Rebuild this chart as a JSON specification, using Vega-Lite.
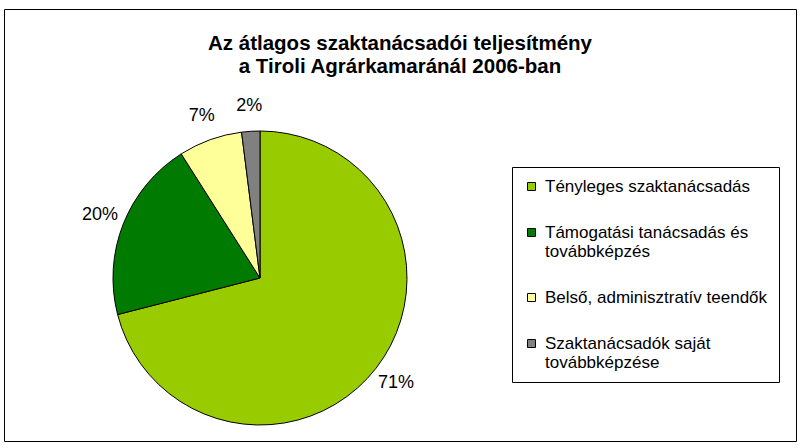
{
  "$schema": "https://vega.github.io/schema/vega-lite/v6.json",
  "width": 792,
  "height": 432,
  "autosize": {"type": "none"},
  "padding": {"left": 4, "top": 9, "right": 6, "bottom": 7},
  "background": "white",
  "view": {"stroke": "black", "strokeWidth": 1, "fill": "white"},
  "config": {
    "font": "Liberation Sans"
  },
  "title": {
    "text": ["Az átlagos szaktanácsadói teljesítmény", "a Tiroli Agrárkamaránál 2006-ban"],
    "font": "Liberation Sans",
    "fontSize": 20.5,
    "fontWeight": "bold",
    "color": "black",
    "anchor": "middle",
    "lineHeight": 23,
    "offset": -68
  },
  "data": {
    "values": [
      {"kategoria": "Tényleges szaktanácsadás", "arany": 0.71, "sorrend": 1},
      {"kategoria": "Támogatási tanácsadás és továbbképzés", "arany": 0.20, "sorrend": 2},
      {"kategoria": "Belső, adminisztratív teendők", "arany": 0.07, "sorrend": 3},
      {"kategoria": "Szaktanácsadók saját továbbképzése", "arany": 0.02, "sorrend": 4}
    ]
  },
  "encoding": {
    "theta": {"field": "arany", "type": "quantitative", "stack": true},
    "order": {"field": "sorrend", "type": "quantitative"}
  },
  "layer": [
    {
      "mark": {"type": "arc", "x": 256, "y": 269, "outerRadius": 147, "stroke": "black", "strokeWidth": 1},
      "encoding": {
        "color": {
          "field": "kategoria",
          "type": "nominal",
          "sort": ["Tényleges szaktanácsadás", "Támogatási tanácsadás és továbbképzés", "Belső, adminisztratív teendők", "Szaktanácsadók saját továbbképzése"],
          "scale": {
            "domain": ["Tényleges szaktanácsadás", "Támogatási tanácsadás és továbbképzés", "Belső, adminisztratív teendők", "Szaktanácsadók saját továbbképzése"],
            "range": ["#99CC00", "#007A00", "#FFFF99", "#808080"]
          },
          "legend": {
            "title": null,
            "orient": "none",
            "legendX": 508,
            "legendY": 158,
            "direction": "vertical",
            "strokeColor": "black",
            "fillColor": "white",
            "padding": 11,
            "symbolType": "square",
            "symbolSize": 64,
            "symbolStrokeColor": "black",
            "symbolStrokeWidth": 1,
            "symbolOpacity": 1,
            "labelFont": "Liberation Sans",
            "labelFontSize": 17,
            "labelColor": "black",
            "labelLimit": 400,
            "labelOffset": 5,
            "labelBaseline": "middle",
            "rowPadding": 28,
            "labelExpr": "datum.label == 'Támogatási tanácsadás és továbbképzés' ? ['Támogatási tanácsadás és', 'továbbképzés'] : datum.label == 'Szaktanácsadók saját továbbképzése' ? ['Szaktanácsadók saját', 'továbbképzése'] : datum.label"
          }
        }
      }
    },
    {
      "mark": {"type": "text", "x": 256, "y": 269, "radius": 172, "fontSize": 18, "font": "Liberation Sans", "color": "black"},
      "encoding": {
        "text": {"field": "arany", "type": "quantitative", "format": ".0%"}
      }
    }
  ]
}
